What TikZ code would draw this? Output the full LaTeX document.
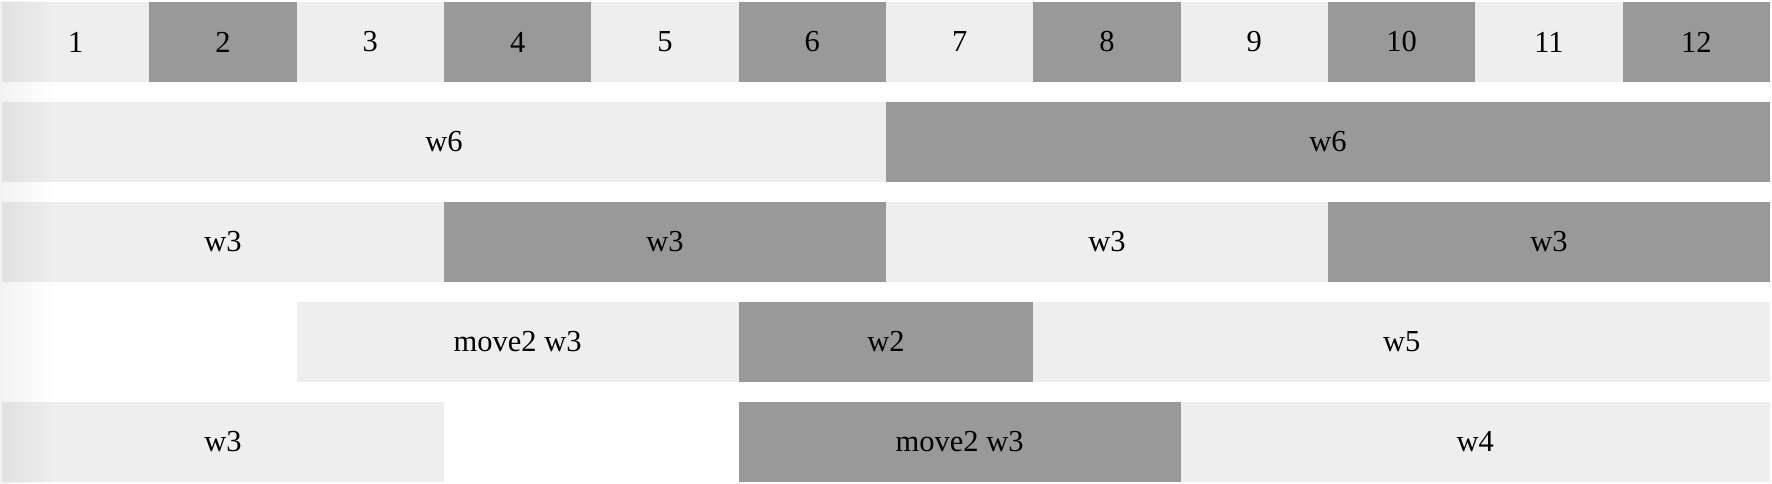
\documentclass[tikz,border=0pt]{standalone}
\usepackage{fontspec}
\setmainfont{Liberation Serif}
\usepackage{xcolor}
\usetikzlibrary{fadings}
\definecolor{liteg}{HTML}{EEEEEE}
\definecolor{darkg}{HTML}{999999}
\tikzset{
	cell/.style={anchor=north west,minimum height=80pt,inner sep=0pt,outer sep=0pt,
		text=black,font=\fontsize{30.5}{36}\selectfont},
	lite/.style={cell,fill=liteg},
	dark/.style={cell,fill=darkg},
	span/.style={minimum width=#1*147.33pt},
}
\begin{document}
\begin{tikzpicture}[x=1pt,y=-1pt]
		\useasboundingbox (0,0) rectangle (1772,484);
		
		% row of column numbers
		\foreach \i [evaluate=\i as \x using 2+(\i-1)*147.33] in {1,...,12}{
			\ifodd\i \def\tone{lite}\else\def\tone{dark}\fi
			\node[\tone,span=1] (c\i) at (\x,2) {\i};
		}
		
		\node[lite,span=6] (a1) at (2,102)       {w6};
		\node[dark,span=6] (a2) at (886,102)     {w6};
		
		\node[lite,span=3] (b1) at (2,202)       {w3};
		\node[dark,span=3] (b2) at (444,202)     {w3};
		\node[lite,span=3] (b3) at (886,202)     {w3};
		\node[dark,span=3] (b4) at (1328,202)    {w3};
		
		\node[lite,span=3] (d1) at (296.67,302)  {move2 w3};
		\node[dark,span=2] (d2) at (738.67,302)  {w2};
		\node[lite,span=5] (d3) at (1033.33,302) {w5};
		
		\node[lite,span=3] (e1) at (2,402)       {w3};
		\node[dark,span=3] (e2) at (738.67,402)  {move2 w3};
		\node[lite,span=4] (e3) at (1180.67,402) {w4};
		
		% faint shadow on the left edge
		\fill[black,opacity=0.05,path fading=east] (0,0) rectangle (55,484);
\end{tikzpicture}
\end{document}
